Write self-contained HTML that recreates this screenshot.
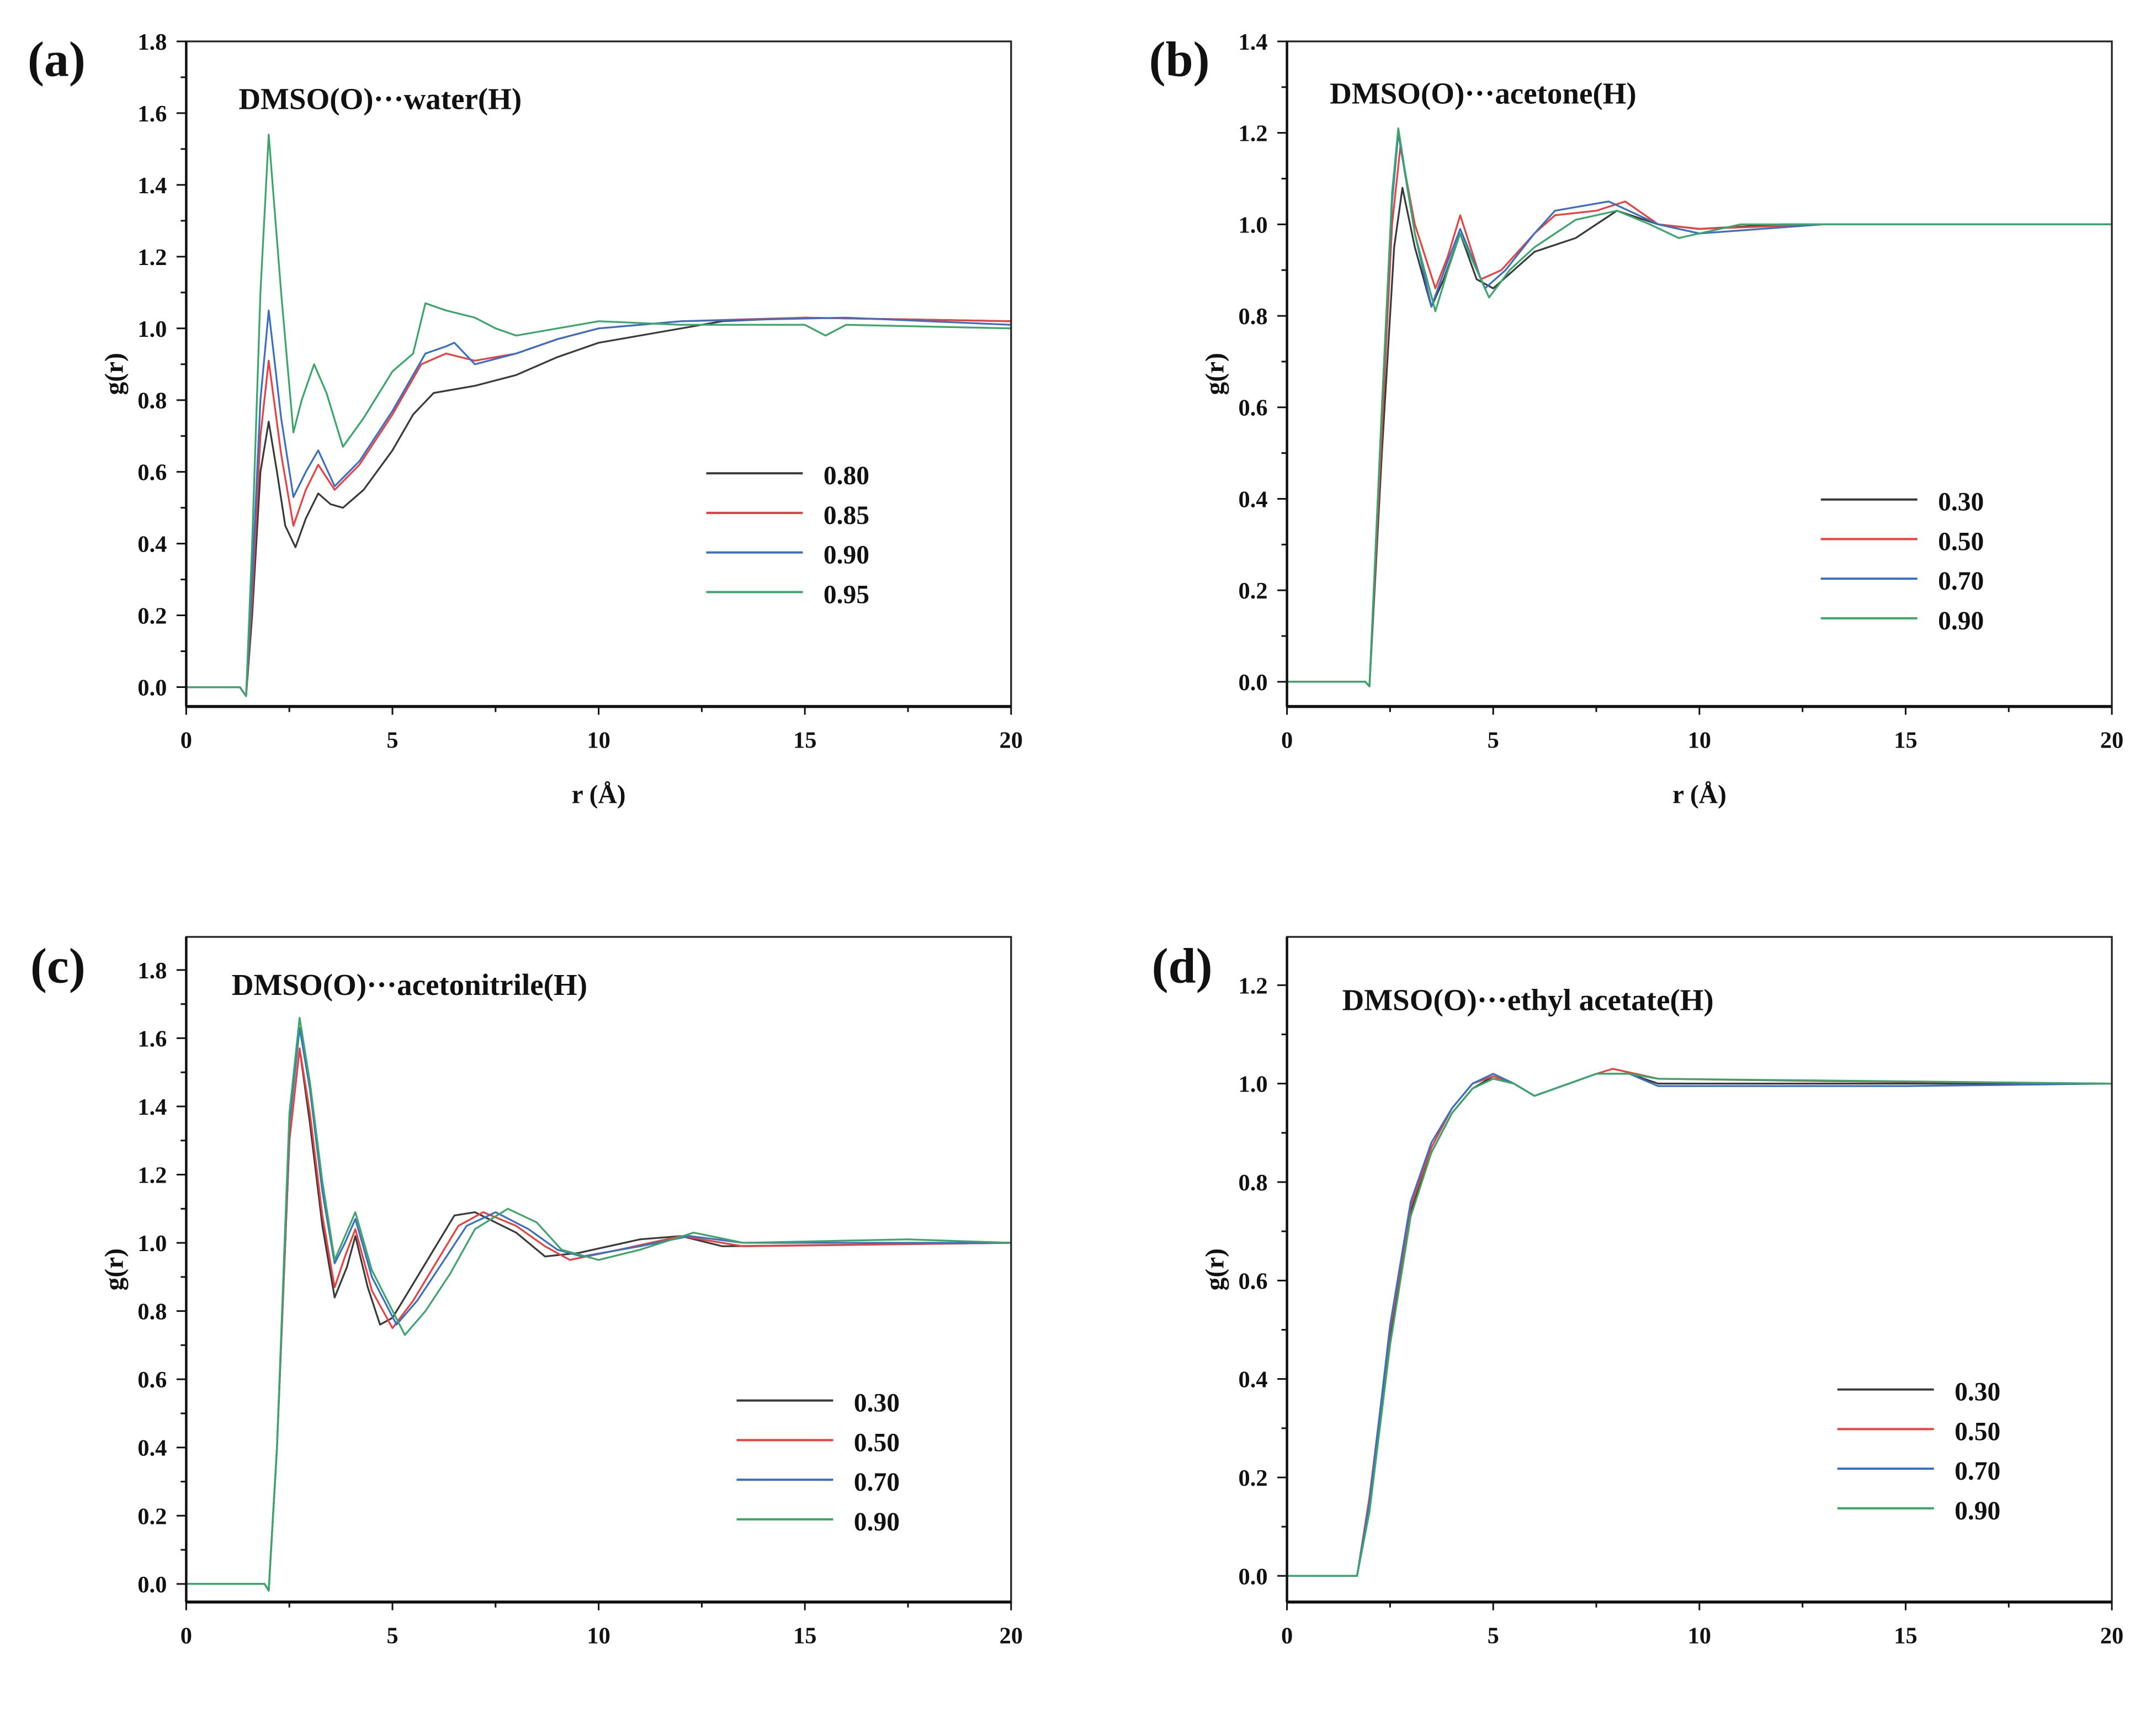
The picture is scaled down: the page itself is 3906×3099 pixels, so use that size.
<!DOCTYPE html>
<html><head><meta charset="utf-8"><style>
html,body{margin:0;padding:0;background:#fff;}
svg{display:block;font-family:"Liberation Serif",serif;}
</style></head><body>
<svg id="fig" width="3906" height="3099" viewBox="0 0 1563 1240" preserveAspectRatio="none" xmlns="http://www.w3.org/2000/svg"></svg>
<script>
// ---- data (r in Å, g(r)) ----
const aLabels = ["0.80","0.85","0.90","0.95"];
const a080 = [[0,0],[1.3,0],[1.45,-0.025],[1.6,0.2],[1.8,0.6],[2.0,0.74],[2.2,0.6],[2.4,0.45],[2.65,0.39],[2.9,0.47],[3.2,0.54],[3.5,0.51],[3.8,0.5],[4.3,0.55],[5,0.66],[5.5,0.76],[6,0.82],[7,0.84],[8,0.87],[9,0.92],[10,0.96],[11,0.98],[12,1.0],[13,1.02],[15,1.03],[20,1.02]];
const a085 = [[0,0],[1.3,0],[1.45,-0.025],[1.6,0.25],[1.8,0.7],[2.0,0.91],[2.3,0.65],[2.6,0.45],[2.9,0.55],[3.2,0.62],[3.6,0.55],[4.2,0.62],[5,0.76],[5.7,0.9],[6.3,0.93],[7,0.91],[8,0.93],[9,0.97],[10,1.0],[12,1.02],[15,1.03],[20,1.02]];
const a090 = [[0,0],[1.3,0],[1.45,-0.025],[1.6,0.3],[1.8,0.8],[2.0,1.05],[2.3,0.75],[2.6,0.53],[2.9,0.6],[3.2,0.66],[3.6,0.56],[4.2,0.63],[5,0.77],[5.8,0.93],[6.3,0.95],[6.5,0.96],[7,0.9],[8,0.93],[9,0.97],[10,1.0],[12,1.02],[16,1.03],[20,1.01]];
const a095 = [[0,0],[1.3,0],[1.45,-0.025],[1.6,0.4],[1.8,1.1],[2.0,1.54],[2.3,1.1],[2.6,0.71],[2.8,0.8],[3.1,0.9],[3.4,0.82],[3.8,0.67],[4.3,0.75],[5,0.88],[5.5,0.93],[5.8,1.07],[6.3,1.05],[7,1.03],[7.5,1.0],[8,0.98],[9,1.0],[10,1.02],[12,1.01],[15,1.01],[15.5,0.98],[16,1.01],[20,1.0]];
const bLabels = ["0.30","0.50","0.70","0.90"];
const b030 = [[0,0],[1.9,0],[2.0,-0.01],[2.3,0.5],[2.6,0.95],[2.8,1.08],[3.1,0.95],[3.5,0.82],[3.8,0.88],[4.2,0.98],[4.6,0.88],[5,0.86],[5.5,0.9],[6,0.94],[7,0.97],[8,1.03],[9,1.0],[10,0.99],[12,1.0],[20,1.0]];
const b050 = [[0,0],[1.9,0],[2.0,-0.01],[2.3,0.55],[2.55,1.0],[2.75,1.17],[3.1,1.0],[3.6,0.86],[3.9,0.93],[4.2,1.02],[4.7,0.88],[5.2,0.9],[6,0.98],[6.5,1.02],[7.5,1.03],[8.2,1.05],[9,1.0],[10,0.99],[13,1.0],[20,1.0]];
const b070 = [[0,0],[1.9,0],[2.0,-0.01],[2.3,0.6],[2.55,1.05],[2.7,1.2],[3.1,0.98],[3.5,0.82],[3.9,0.92],[4.2,0.99],[4.8,0.86],[5.3,0.9],[6,0.98],[6.5,1.03],[7.8,1.05],[9,1.0],[10,0.98],[13,1.0],[20,1.0]];
const b090 = [[0,0],[1.9,0],[2.0,-0.01],[2.3,0.6],[2.55,1.07],[2.7,1.21],[3.1,0.98],[3.6,0.81],[3.9,0.9],[4.2,0.98],[4.9,0.84],[5.4,0.9],[6,0.95],[7,1.01],[8,1.03],[8.8,1.0],[9.5,0.97],[11,1.0],[20,1.0]];
const cLabels = ["0.30","0.50","0.70","0.90"];
const c030 = [[0,0],[1.9,0],[2.0,-0.02],[2.2,0.4],[2.5,1.3],[2.75,1.57],[3.0,1.35],[3.3,1.05],[3.6,0.84],[3.9,0.93],[4.1,1.02],[4.4,0.87],[4.7,0.76],[5.0,0.78],[5.5,0.88],[6,0.98],[6.5,1.08],[7,1.09],[8,1.03],[8.7,0.96],[9.5,0.97],[11,1.01],[12,1.02],[13,0.99],[20,1.0]];
const c050 = [[0,0],[1.9,0],[2.0,-0.02],[2.2,0.4],[2.5,1.3],[2.75,1.57],[3.0,1.38],[3.3,1.08],[3.6,0.87],[3.85,0.96],[4.1,1.04],[4.5,0.86],[5.0,0.75],[5.5,0.83],[6,0.93],[6.6,1.05],[7.2,1.09],[8,1.05],[8.7,0.99],[9.3,0.95],[10.5,0.98],[12,1.02],[13.5,0.99],[20,1.0]];
const c070 = [[0,0],[1.9,0],[2.0,-0.02],[2.2,0.4],[2.5,1.35],[2.75,1.63],[3.0,1.45],[3.3,1.15],[3.6,0.94],[3.85,1.0],[4.1,1.07],[4.5,0.9],[5.1,0.76],[5.6,0.83],[6.2,0.94],[6.8,1.05],[7.5,1.09],[8.3,1.04],[9,0.98],[9.6,0.96],[11,0.99],[12.2,1.02],[13.5,1.0],[20,1.0]];
const c090 = [[0,0],[1.9,0],[2.0,-0.02],[2.2,0.4],[2.5,1.38],[2.75,1.66],[3.0,1.47],[3.3,1.18],[3.6,0.95],[3.85,1.02],[4.1,1.09],[4.5,0.92],[5.3,0.73],[5.8,0.8],[6.4,0.91],[7,1.04],[7.8,1.1],[8.5,1.06],[9.1,0.98],[10,0.95],[11,0.98],[12.3,1.03],[13.5,1.0],[17.5,1.01],[20,1.0]];
const dLabels = ["0.30","0.50","0.70","0.90"];
const d030 = [[0,0],[1.7,0],[2,0.14],[2.5,0.49],[3,0.74],[3.5,0.86],[4,0.94],[4.5,0.99],[5,1.015],[5.5,1.0],[6,0.975],[6.5,0.99],[7.5,1.02],[8.3,1.02],[9,1.0],[20,1.0]];
const d050 = [[0,0],[1.7,0],[2,0.16],[2.5,0.5],[3,0.75],[3.5,0.87],[4,0.95],[4.5,1.0],[5,1.015],[5.5,1.0],[6,0.975],[6.5,0.99],[7.5,1.02],[7.9,1.03],[9,1.01],[13,1.005],[20,1.0]];
const d070 = [[0,0],[1.7,0],[2,0.15],[2.5,0.51],[3,0.76],[3.5,0.88],[4,0.95],[4.5,1.0],[5,1.02],[5.5,1.0],[6,0.975],[6.5,0.99],[7.5,1.02],[8.3,1.02],[9,0.995],[15,0.995],[20,1.0]];
const d090 = [[0,0],[1.7,0],[2,0.13],[2.5,0.47],[3,0.73],[3.5,0.86],[4,0.94],[4.5,0.99],[5,1.01],[5.5,1.0],[6,0.975],[6.5,0.99],[7.5,1.02],[8.3,1.02],[9,1.01],[20,1.0]];
const xTicks = [0,5,10,15,20];
const colors = ["#3a3a3a","#e8413f","#3a6fc4","#3aa66a"];

const NS = "http://www.w3.org/2000/svg";
const svg = document.getElementById("fig");
function mk(tag, attrs, parent, txt){
  const e = document.createElementNS(NS, tag);
  for (const k in attrs) e.setAttribute(k, attrs[k]);
  if (txt !== undefined) e.textContent = txt;
  (parent||svg).appendChild(e);
  return e;
}
const panels = [
 {id:"a",L:135,R:733,T:30,B:512,ymin:-0.054,ymax:1.8,yTop:1.8,series:[a080,a085,a090,a095],labels:aLabels,title:"DMSO(O)\u00b7\u00b7\u00b7water(H)",tx:173,ty:79,lx:512,ly:343,px:20,py:55,xt:true},
 {id:"b",L:933,R:1531,T:30,B:512,ymin:-0.054,ymax:1.4,yTop:1.4,series:[b030,b050,b070,b090],labels:bLabels,title:"DMSO(O)\u00b7\u00b7\u00b7acetone(H)",tx:964,ty:75,lx:1320,ly:362,px:833,py:55,xt:true},
 {id:"c",L:135,R:733,T:679,B:1161,ymin:-0.053,ymax:1.897,yTop:1.8,series:[c030,c050,c070,c090],labels:cLabels,title:"DMSO(O)\u00b7\u00b7\u00b7acetonitrile(H)",tx:168,ty:721,lx:534,ly:1015,px:22,py:712,xt:false},
 {id:"d",L:933,R:1531,T:679,B:1161,ymin:-0.053,ymax:1.298,yTop:1.2,series:[d030,d050,d070,d090],labels:dLabels,title:"DMSO(O)\u00b7\u00b7\u00b7ethyl acetate(H)",tx:973,ty:732,lx:1332,ly:1007,px:835,py:712,xt:false}
];
panels.forEach(p=>{
  const g = mk("g",{});
  
  
  const X = v => p.L + (v/20)*(p.R-p.L);
  const Y = v => p.B - (v-p.ymin)/(p.ymax-p.ymin)*(p.B-p.T);
  p.series.forEach((s,i)=>{
    const pl = mk("polyline",{points:s.map(d=>X(d[0]).toFixed(1)+","+Y(d[1]).toFixed(1)).join(" "),fill:"none",stroke:colors[i],"stroke-width":1.3,"stroke-linejoin":"round"},g);
    
    
  });
  const frame = mk("rect",{x:p.L,y:p.T,width:p.R-p.L,height:p.B-p.T,fill:"none",stroke:"#222","stroke-width":1.3},g);
  
  
  mk("line",{x1:p.L,y1:p.B,x2:p.R,y2:p.B,stroke:"#111","stroke-width":2.2},g);
  mk("line",{x1:p.L,y1:p.T,x2:p.L,y2:p.B,stroke:"#111","stroke-width":1.8},g);
  for (let v=0; v<=20.001; v+=2.5){
    const major = Math.abs(v%5)<1e-6;
    mk("line",{x1:X(v),y1:p.B,x2:X(v),y2:p.B+(major?6:4),stroke:"#111","stroke-width":1.2},g);
  }
  xTicks.forEach(v=>{
    const t = mk("text",{x:X(v),y:p.B+30,"text-anchor":"middle","font-size":17,"font-weight":"bold",fill:"#111"},g,String(v));
    
    
  });
  for (let k=0; k*0.1<=p.yTop+1e-6; k++){
    const v = k*0.1, major = k%2===0;
    mk("line",{x1:p.L,y1:Y(v),x2:p.L-(major?7:4),y2:Y(v),stroke:"#111","stroke-width":1.2},g);
    if (major){
      const t = mk("text",{x:p.L-14,y:Y(v)+6,"text-anchor":"end","font-size":17,"font-weight":"bold",fill:"#111"},g,v.toFixed(1));
      
      
    }
  }
  const cy = (p.T+p.B)/2;
  const yt = mk("text",{x:0,y:0,transform:`translate(${p.L-46},${cy}) rotate(-90)`,"text-anchor":"middle","font-size":19,"font-weight":"bold",fill:"#111"},g,"g(r)");
  
  
  if (p.xt){
    const xtl = mk("text",{x:(p.L+p.R)/2,y:p.B+70,"text-anchor":"middle","font-size":19,"font-weight":"bold",fill:"#111"},g,"r (\u00c5)");
    
    
  }
  const tt = mk("text",{x:p.tx,y:p.ty,"font-size":22,"font-weight":"bold",fill:"#111"},g,p.title);
  
  
  const pl = mk("text",{x:p.px,y:p.py,"font-size":36,"font-weight":"bold",fill:"#111"},g,"("+p.id+")");
  
  
  p.labels.forEach((lab,i)=>{
    const yy = p.ly + i*28.7;
    const ln = mk("line",{x1:p.lx,y1:yy,x2:p.lx+70,y2:yy,stroke:colors[i],"stroke-width":1.6},g);
    
    
    const lt = mk("text",{x:p.lx+85,y:yy+8,"font-size":19,"font-weight":"bold",fill:"#111"},g,lab);
    
    
  });
});
</script>
</body></html>
